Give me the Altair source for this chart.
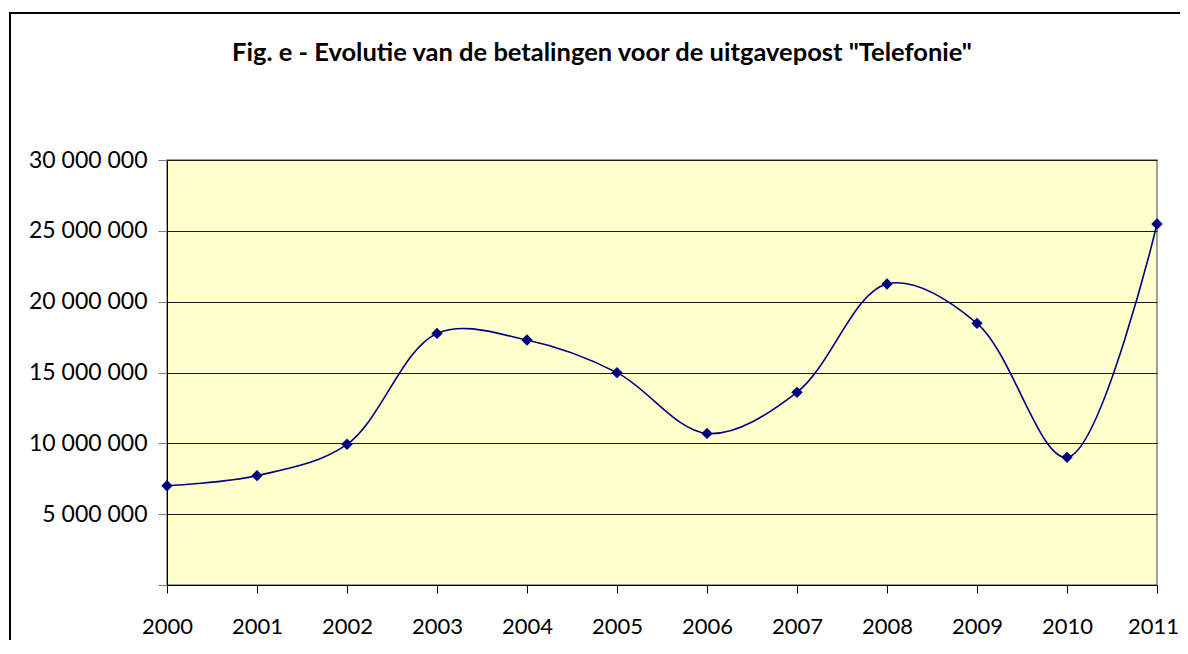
import altair as alt
import pandas as pd

years = [2000, 2001, 2002, 2003, 2004, 2005, 2006, 2007, 2008, 2009, 2010, 2011]
payments = [7010000, 7720000, 9930000, 17760000, 17290000, 14990000,
            10700000, 13600000, 21250000, 18470000, 9010000, 25480000]
y_ticks = [0, 5000000, 10000000, 15000000, 20000000, 25000000, 30000000]
title_text = 'Fig. e - Evolutie van de betalingen voor de uitgavepost "Telefonie"'

df = pd.DataFrame({"jaar": years, "betalingen": payments})

FONT = "Lato"

x_enc = alt.X(
    "jaar:Q",
    scale=alt.Scale(domain=[2000, 2011], nice=False, zero=False),
    axis=alt.Axis(
        values=years, format="d", title=None, grid=False,
        tickSize=8, tickColor="#000000", domainColor="#000000",
        labelPadding=23, labelFontSize=22, labelFont=FONT, labelColor="#000000",
        labelFlush=False, labelOverlap=False,
        labelOffset={"condition": {"test": "datum.value === 2011", "value": -4}, "value": 0},
    ),
)
y_enc = alt.Y(
    "betalingen:Q",
    scale=alt.Scale(domain=[0, 30000000], nice=False),
    axis=alt.Axis(
        values=y_ticks, title=None, grid=True, gridColor="#1a1a1a", gridWidth=1,
        tickSize=9, tickColor="#808080", domainColor="#000000",
        labelPadding=11, labelFontSize=23, labelFont=FONT, labelColor="#000000",
        labelExpr="datum.value == 0 ? '' : replace(format(datum.value, ','), regexp(',', 'g'), ' ')",
    ),
)

base = alt.Chart(df)

line = base.mark_line(
    interpolate="catmull-rom", color="#000080", strokeWidth=1.6
).encode(x=x_enc, y=y_enc)

points = base.mark_point(
    shape="diamond", filled=True, size=130, color="#000080", opacity=1
).encode(x="jaar:Q", y="betalingen:Q")

frame = alt.Chart(pd.DataFrame({"k": [0]})).mark_rect(
    fill=None, stroke="#000000", strokeWidth=2
).encode(
    x=alt.value(-157), x2=alt.value(1100),
    y=alt.value(-147), y2=alt.value(700),
)

chart = alt.layer(frame, line, points).properties(
    width=990,
    height=425,
    padding={"left": 159, "top": 152, "right": 23, "bottom": 55},
    autosize=alt.AutoSizeParams(type="none"),
    background="#ffffff",
    title=alt.TitleParams(
        text=title_text, font=FONT, fontSize=25.5, fontWeight="bold",
        color="#000000", anchor="middle", dx=-60, offset=0, dy=74,
        baseline="alphabetic", frame="group",
    ),
).configure_view(
    fill="#FFFFCC", stroke="#808080", strokeWidth=1.5
)

chart.save("out.html", embed_options={"renderer": "svg", "actions": False})
